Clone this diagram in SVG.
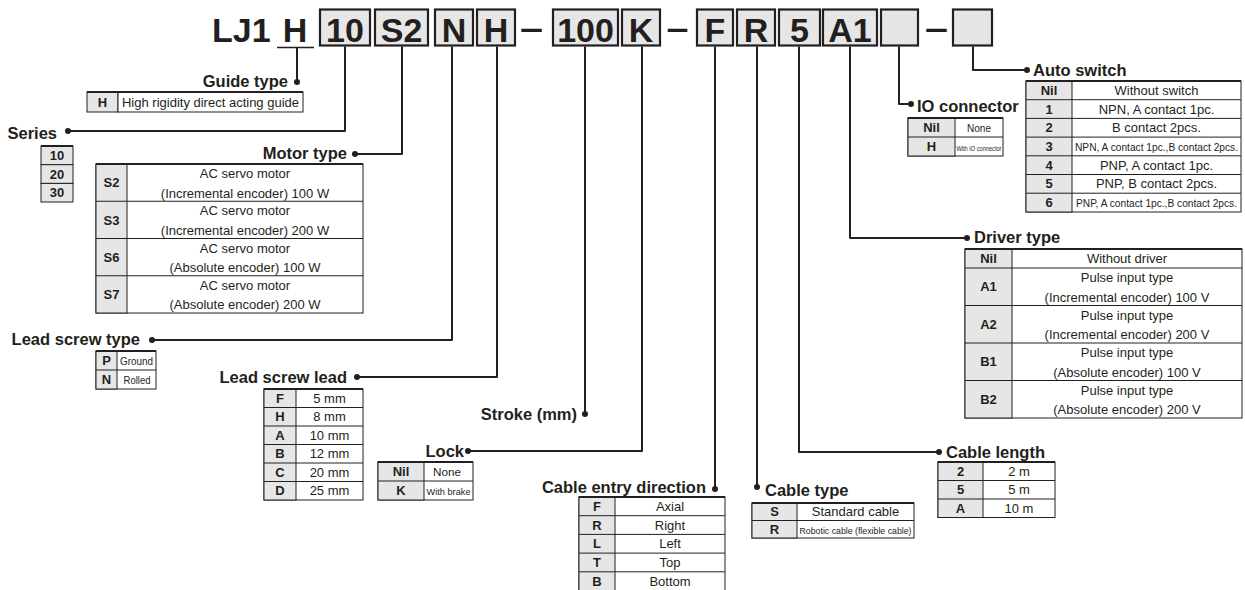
<svg xmlns="http://www.w3.org/2000/svg" width="1245" height="590" viewBox="0 0 1245 590">
<style>
text{font-family:"Liberation Sans",Arial,sans-serif;fill:#231f20}
.t{font-size:34px;font-weight:bold}
.bx{fill:#e6e6e6;stroke:#231f20;stroke-width:2.2}
.lbl{font-size:16.5px;font-weight:bold}
.r{text-anchor:end}
.k{font-size:13px;font-weight:bold;text-anchor:middle}
.d{font-size:13px;text-anchor:middle}
.c{fill:#fff;stroke:#231f20;stroke-width:1}
.g{fill:#e6e6e6;stroke:#231f20;stroke-width:1}
.tp{stroke:#231f20;stroke-width:2}
.ln{stroke:#231f20;stroke-width:1}
.conn{fill:none;stroke:#231f20;stroke-width:2;stroke-linejoin:round}
.dot{fill:#231f20}
</style>

<g id="title">
<text class="t" x="212" y="41.5">LJ1</text>
<text class="t" x="295" y="41.5" text-anchor="middle">H</text>
<line x1="277" y1="47.5" x2="314" y2="47.5" stroke="#231f20" stroke-width="1.5"/>
<rect class="bx" x="320" y="9.5" width="50" height="36"/><text class="t" x="345" y="41.5" text-anchor="middle">10</text>
<rect class="bx" x="375" y="9.5" width="53" height="36"/><text class="t" x="401.5" y="41.5" text-anchor="middle">S2</text>
<rect class="bx" x="435" y="9.5" width="38" height="36"/><text class="t" x="454" y="41.5" text-anchor="middle">N</text>
<rect class="bx" x="477" y="9.5" width="38" height="36"/><text class="t" x="496" y="41.5" text-anchor="middle">H</text>
<text class="t" x="531.5" y="39" text-anchor="middle" textLength="23" lengthAdjust="spacingAndGlyphs">–</text>
<rect class="bx" x="553" y="9.5" width="65" height="36"/><text class="t" x="585.5" y="41.5" text-anchor="middle">100</text>
<rect class="bx" x="622" y="9.5" width="38" height="36"/><text class="t" x="641" y="41.5" text-anchor="middle">K</text>
<text class="t" x="677.5" y="39" text-anchor="middle" textLength="22" lengthAdjust="spacingAndGlyphs">–</text>
<rect class="bx" x="697" y="9.5" width="36" height="36"/><text class="t" x="715" y="41.5" text-anchor="middle">F</text>
<rect class="bx" x="737" y="9.5" width="38" height="36"/><text class="t" x="756" y="41.5" text-anchor="middle">R</text>
<rect class="bx" x="779" y="9.5" width="41" height="36"/><text class="t" x="799.5" y="41.5" text-anchor="middle">5</text>
<rect class="bx" x="823" y="9.5" width="54" height="36"/><text class="t" x="850" y="41.5" text-anchor="middle">A1</text>
<rect class="bx" x="881" y="9.5" width="37" height="36"/>
<text class="t" x="936.5" y="39" text-anchor="middle" textLength="23" lengthAdjust="spacingAndGlyphs">–</text>
<rect class="bx" x="953" y="9.5" width="39" height="36"/>
</g>

<g id="connectors">
<path class="conn" d="M297 48V82"/><circle class="dot" cx="297" cy="82" r="3"/>
<path class="conn" d="M345 46.5V131H68"/><circle class="dot" cx="68" cy="131" r="3"/>
<path class="conn" d="M402 46.5V154H355"/><circle class="dot" cx="355" cy="154" r="3"/>
<path class="conn" d="M452 46.5V340H152"/><circle class="dot" cx="152" cy="340" r="3"/>
<path class="conn" d="M497 46.5V377H357"/><circle class="dot" cx="357" cy="377" r="3"/>
<path class="conn" d="M585 46.5V414"/><circle class="dot" cx="585" cy="414" r="3"/>
<path class="conn" d="M642 46.5V451H468"/><circle class="dot" cx="468" cy="451" r="3"/>
<path class="conn" d="M715 46.5V489"/><circle class="dot" cx="715" cy="489" r="3"/>
<path class="conn" d="M757 46.5V487"/><circle class="dot" cx="757" cy="487" r="3"/>
<path class="conn" d="M799 46.5V452H939"/><circle class="dot" cx="939" cy="452" r="3"/>
<path class="conn" d="M850 46.5V238H967"/><circle class="dot" cx="967" cy="238" r="3"/>
<path class="conn" d="M899 46.5V104H911"/><circle class="dot" cx="911" cy="104" r="3"/>
<path class="conn" d="M973 46.5V70H1027"/><circle class="dot" cx="1027" cy="70" r="3"/>
</g>

<g id="guide-type">
<text class="lbl r" x="288" y="87">Guide type</text>
<rect class="g" x="87" y="92" width="31" height="20"/>
<rect class="c" x="118" y="92" width="185" height="20"/>
<line class="tp" x1="87" y1="92" x2="303" y2="92"/>
<text class="k" x="102.5" y="106.5">H</text>
<text class="d" x="210.5" y="106.5">High rigidity direct acting guide</text>
</g>

<g id="series">
<text class="lbl r" x="57" y="139">Series</text>
<rect class="g" x="41" y="146" width="32" height="18.7"/>
<rect class="g" x="41" y="164.7" width="32" height="18.7"/>
<rect class="g" x="41" y="183.4" width="32" height="18.6"/>
<line class="tp" x1="41" y1="146" x2="73" y2="146"/>
<text class="k" x="57" y="159.8">10</text>
<text class="k" x="57" y="178.5">20</text>
<text class="k" x="57" y="197.2">30</text>
</g>

<g id="motor-type">
<text class="lbl r" x="347" y="159">Motor type</text>
<rect class="c" x="96" y="164" width="267" height="149"/>
<rect class="g" x="96" y="164" width="31" height="149"/>
<line class="ln" x1="96" y1="201.25" x2="363" y2="201.25"/>
<line class="ln" x1="96" y1="238.5" x2="363" y2="238.5"/>
<line class="ln" x1="96" y1="275.75" x2="363" y2="275.75"/>
<line class="tp" x1="96" y1="164" x2="363" y2="164"/>
<text class="k" x="111.5" y="187">S2</text>
<text class="d" x="245" y="178">AC servo motor</text>
<text class="d" x="245" y="197.5">(Incremental encoder) 100 W</text>
<text class="k" x="111.5" y="224.5">S3</text>
<text class="d" x="245" y="215.3">AC servo motor</text>
<text class="d" x="245" y="234.8">(Incremental encoder) 200 W</text>
<text class="k" x="111.5" y="261.8">S6</text>
<text class="d" x="245" y="252.5">AC servo motor</text>
<text class="d" x="245" y="272">(Absolute encoder) 100 W</text>
<text class="k" x="111.5" y="299">S7</text>
<text class="d" x="245" y="289.8">AC servo motor</text>
<text class="d" x="245" y="309.3">(Absolute encoder) 200 W</text>
</g>

<g id="lead-screw-type">
<text class="lbl r" x="140" y="345">Lead screw type</text>
<rect class="c" x="96" y="351" width="60" height="38"/>
<rect class="g" x="96" y="351" width="21" height="38"/>
<line class="ln" x1="96" y1="370" x2="156" y2="370"/>
<line class="tp" x1="96" y1="351" x2="156" y2="351"/>
<text class="k" x="106.5" y="365">P</text>
<text class="d" x="136.5" y="365" style="font-size:10px" textLength="33" lengthAdjust="spacingAndGlyphs">Ground</text>
<text class="k" x="106.5" y="384">N</text>
<text class="d" x="137" y="384" style="font-size:10px" textLength="27" lengthAdjust="spacingAndGlyphs">Rolled</text>
</g>

<g id="lead-screw-lead">
<text class="lbl r" x="347" y="383">Lead screw lead</text>
<rect class="c" x="264" y="389" width="99" height="111"/>
<rect class="g" x="264" y="389" width="32" height="111"/>
<line class="ln" x1="264" y1="407.5" x2="363" y2="407.5"/>
<line class="ln" x1="264" y1="426" x2="363" y2="426"/>
<line class="ln" x1="264" y1="444.5" x2="363" y2="444.5"/>
<line class="ln" x1="264" y1="463" x2="363" y2="463"/>
<line class="ln" x1="264" y1="481.5" x2="363" y2="481.5"/>
<line class="tp" x1="264" y1="389" x2="363" y2="389"/>
<text class="k" x="280" y="402.8">F</text><text class="d" x="329.5" y="402.8">5 mm</text>
<text class="k" x="280" y="421.3">H</text><text class="d" x="329.5" y="421.3">8 mm</text>
<text class="k" x="280" y="439.8">A</text><text class="d" x="329.5" y="439.8">10 mm</text>
<text class="k" x="280" y="458.3">B</text><text class="d" x="329.5" y="458.3">12 mm</text>
<text class="k" x="280" y="476.8">C</text><text class="d" x="329.5" y="476.8">20 mm</text>
<text class="k" x="280" y="495.3">D</text><text class="d" x="329.5" y="495.3">25 mm</text>
</g>

<g id="stroke">
<text class="lbl r" x="577" y="420">Stroke (mm)</text>
</g>

<g id="lock">
<text class="lbl r" x="464" y="457">Lock</text>
<rect class="c" x="378" y="462" width="95" height="38"/>
<rect class="g" x="378" y="462" width="46" height="38"/>
<line class="ln" x1="378" y1="481" x2="473" y2="481"/>
<line class="tp" x1="378" y1="462" x2="473" y2="462"/>
<text class="k" x="401" y="476">Nil</text>
<text class="d" x="447" y="476" style="font-size:11px" textLength="28" lengthAdjust="spacingAndGlyphs">None</text>
<text class="k" x="401" y="495">K</text>
<text class="d" x="448.5" y="495" style="font-size:9px" textLength="44" lengthAdjust="spacingAndGlyphs">With brake</text>
</g>

<g id="cable-entry-direction">
<text class="lbl r" x="706" y="493">Cable entry direction</text>
<rect class="c" x="579" y="497" width="146" height="93.5"/>
<rect class="g" x="579" y="497" width="36" height="93.5"/>
<line class="ln" x1="579" y1="515.7" x2="725" y2="515.7"/>
<line class="ln" x1="579" y1="534.4" x2="725" y2="534.4"/>
<line class="ln" x1="579" y1="553.1" x2="725" y2="553.1"/>
<line class="ln" x1="579" y1="571.8" x2="725" y2="571.8"/>
<line class="tp" x1="579" y1="497" x2="725" y2="497"/>
<text class="k" x="597" y="510.9">F</text><text class="d" x="670" y="510.9">Axial</text>
<text class="k" x="597" y="529.6">R</text><text class="d" x="670" y="529.6">Right</text>
<text class="k" x="597" y="548.3">L</text><text class="d" x="670" y="548.3">Left</text>
<text class="k" x="597" y="567">T</text><text class="d" x="670" y="567">Top</text>
<text class="k" x="597" y="585.7">B</text><text class="d" x="670" y="585.7">Bottom</text>
</g>

<g id="cable-type">
<text class="lbl" x="765" y="496">Cable type</text>
<rect class="c" x="752" y="503" width="162" height="35"/>
<rect class="g" x="752" y="503" width="45" height="35"/>
<line class="ln" x1="752" y1="520.5" x2="914" y2="520.5"/>
<line class="tp" x1="752" y1="503" x2="914" y2="503"/>
<text class="k" x="774.5" y="516.3">S</text><text class="d" x="855.5" y="516.3">Standard cable</text>
<text class="k" x="774.5" y="533.8">R</text>
<text class="d" x="855.5" y="533.5" style="font-size:9px" textLength="112" lengthAdjust="spacingAndGlyphs">Robotic cable (flexible cable)</text>
</g>

<g id="cable-length">
<text class="lbl" x="946" y="458">Cable length</text>
<rect class="c" x="938" y="462" width="117" height="55.5"/>
<rect class="g" x="938" y="462" width="45" height="55.5"/>
<line class="ln" x1="938" y1="480.5" x2="1055" y2="480.5"/>
<line class="ln" x1="938" y1="499" x2="1055" y2="499"/>
<line class="tp" x1="938" y1="462" x2="1055" y2="462"/>
<text class="k" x="960.5" y="475.8">2</text><text class="d" x="1019" y="475.8">2 m</text>
<text class="k" x="960.5" y="494.3">5</text><text class="d" x="1019" y="494.3">5 m</text>
<text class="k" x="960.5" y="512.8">A</text><text class="d" x="1019" y="512.8">10 m</text>
</g>

<g id="driver-type">
<text class="lbl" x="974" y="243">Driver type</text>
<rect class="c" x="965" y="249" width="277" height="169"/>
<rect class="g" x="965" y="249" width="47" height="169"/>
<line class="ln" x1="965" y1="268" x2="1242" y2="268"/>
<line class="ln" x1="965" y1="305.5" x2="1242" y2="305.5"/>
<line class="ln" x1="965" y1="343" x2="1242" y2="343"/>
<line class="ln" x1="965" y1="380.5" x2="1242" y2="380.5"/>
<line class="tp" x1="965" y1="249" x2="1242" y2="249"/>
<text class="k" x="988.5" y="263">Nil</text><text class="d" x="1127" y="263">Without driver</text>
<text class="k" x="988.5" y="291.3">A1</text>
<text class="d" x="1127" y="282">Pulse input type</text>
<text class="d" x="1127" y="301.5">(Incremental encoder) 100 V</text>
<text class="k" x="988.5" y="328.8">A2</text>
<text class="d" x="1127" y="319.5">Pulse input type</text>
<text class="d" x="1127" y="339">(Incremental encoder) 200 V</text>
<text class="k" x="988.5" y="366.3">B1</text>
<text class="d" x="1127" y="357">Pulse input type</text>
<text class="d" x="1127" y="376.5">(Absolute encoder) 100 V</text>
<text class="k" x="988.5" y="403.8">B2</text>
<text class="d" x="1127" y="394.5">Pulse input type</text>
<text class="d" x="1127" y="414">(Absolute encoder) 200 V</text>
</g>

<g id="io-connector">
<text class="lbl" x="917" y="112">IO connector</text>
<rect class="c" x="908" y="118" width="95" height="38"/>
<rect class="g" x="908" y="118" width="47" height="38"/>
<line class="ln" x1="908" y1="137" x2="1003" y2="137"/>
<line class="tp" x1="908" y1="118" x2="1003" y2="118"/>
<text class="k" x="931.5" y="132">Nil</text>
<text class="d" x="979" y="132" style="font-size:10px" textLength="24" lengthAdjust="spacingAndGlyphs">None</text>
<text class="k" x="931.5" y="151">H</text>
<text class="d" x="979" y="150.5" style="font-size:7px" textLength="45" lengthAdjust="spacingAndGlyphs">With IO connector</text>
</g>

<g id="auto-switch">
<text class="lbl" x="1033" y="76">Auto switch</text>
<rect class="c" x="1026" y="81" width="215" height="131"/>
<rect class="g" x="1026" y="81" width="46" height="131"/>
<line class="ln" x1="1026" y1="99.7" x2="1241" y2="99.7"/>
<line class="ln" x1="1026" y1="118.4" x2="1241" y2="118.4"/>
<line class="ln" x1="1026" y1="137.1" x2="1241" y2="137.1"/>
<line class="ln" x1="1026" y1="155.8" x2="1241" y2="155.8"/>
<line class="ln" x1="1026" y1="174.5" x2="1241" y2="174.5"/>
<line class="ln" x1="1026" y1="193.2" x2="1241" y2="193.2"/>
<line class="tp" x1="1026" y1="81" x2="1241" y2="81"/>
<text class="k" x="1049" y="94.8">Nil</text><text class="d" x="1156.5" y="94.8">Without switch</text>
<text class="k" x="1049" y="113.5">1</text><text class="d" x="1156.5" y="113.5">NPN, A contact 1pc.</text>
<text class="k" x="1049" y="132.2">2</text><text class="d" x="1156.5" y="132.2">B contact 2pcs.</text>
<text class="k" x="1049" y="150.9">3</text><text class="d" x="1156.5" y="150.6" style="font-size:10px" textLength="163" lengthAdjust="spacingAndGlyphs">NPN, A contact 1pc.,B contact 2pcs.</text>
<text class="k" x="1049" y="169.6">4</text><text class="d" x="1156.5" y="169.6">PNP, A contact 1pc.</text>
<text class="k" x="1049" y="188.3">5</text><text class="d" x="1156.5" y="188.3">PNP, B contact 2pcs.</text>
<text class="k" x="1049" y="207">6</text><text class="d" x="1156.5" y="206.7" style="font-size:10px" textLength="161" lengthAdjust="spacingAndGlyphs">PNP, A contact 1pc.,B contact 2pcs.</text>
</g>
</svg>
